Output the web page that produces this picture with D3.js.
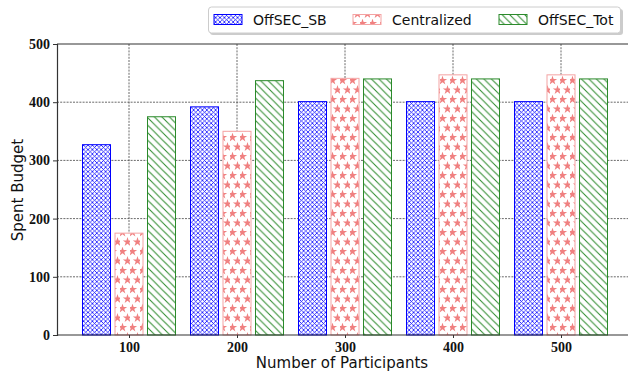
<!DOCTYPE html>
<html>
<head>
<meta charset="utf-8">
<script src="https://cdn.jsdelivr.net/npm/d3@7"></script>
<style>
  body { margin: 0; background: #fff; }
  svg { display: block; }
</style>
</head>
<body>
<div id="chart"></div>
<script>
var w = 628, h = 374;

var participants = [100, 200, 300, 400, 500];
var offsecSB    = [327, 392, 401, 401, 401];
var centralized = [175, 350, 441, 447, 447];
var offsecTot   = [375, 437, 440, 440, 440];
var yTicks = [0, 100, 200, 300, 400, 500];
var seriesNames = ['OffSEC_SB', 'Centralized', 'OffSEC_Tot'];

var series = [
  {name: seriesNames[0], values: offsecSB, color: '#0000ff', fill: 'url(#hatchX)'},
  {name: seriesNames[1], values: centralized, color: '#f4a3a3', fill: 'url(#hatchStar)'},
  {name: seriesNames[2], values: offsecTot, color: '#2b8a2b', fill: 'url(#hatchDiag)'}
];

var pLeft = 57, pTop = 44, pBottom = 335;
var x = d3.scaleLinear().domain([100, 500]).range([129, 561]);
var y = d3.scaleLinear().domain([0, 500]).range([pBottom, pTop]);
var barW = 28, step = 32.5;

var svg = d3.select('#chart').append('svg')
  .attr('width', w)
  .attr('height', h);

var defs = svg.append('defs');

// crosshatch xxx
var px = defs.append('pattern').attr('id', 'hatchX')
  .attr('patternUnits', 'userSpaceOnUse').attr('width', 4.4).attr('height', 4.4);
px.append('rect').attr('width', 4.4).attr('height', 4.4).attr('fill', '#fff');
px.append('path').attr('d', 'M0,0 L4.4,4.4 M4.4,0 L0,4.4 M-1,1 L1,-1 M3.4,5.4 L5.4,3.4 M-1,3.4 L1,5.4 M3.4,-1 L5.4,1')
  .attr('stroke', '#0000ff').attr('stroke-width', 0.75);

// stars
var starPath = d3.symbol().type(d3.symbolStar).size(27)();
var ps = defs.append('pattern').attr('id', 'hatchStar')
  .attr('patternUnits', 'userSpaceOnUse').attr('width', 10).attr('height', 19);
ps.append('rect').attr('width', 10).attr('height', 19).attr('fill', '#fff');
[[2.5, 4.5], [7.5, 14]].forEach(function(p) {
  ps.append('path').attr('d', starPath)
    .attr('transform', 'translate(' + p[0] + ',' + p[1] + ')')
    .attr('fill', '#f08080');
});

// diagonal \\
var pd = defs.append('pattern').attr('id', 'hatchDiag')
  .attr('patternUnits', 'userSpaceOnUse').attr('width', 7.5).attr('height', 7.5);
pd.append('rect').attr('width', 7.5).attr('height', 7.5).attr('fill', '#fff');
pd.append('path').attr('d', 'M0,0 L7.5,7.5 M-1,6.5 L1,8.5 M6.5,-1 L8.5,1')
  .attr('stroke', '#2b8a2b').attr('stroke-width', 1);

// grid
var grid = svg.append('g');
grid.selectAll('.hg').data(yTicks.slice(1, -1)).enter().append('line')
  .attr('x1', pLeft).attr('x2', w)
  .attr('y1', function(d) { return y(d); }).attr('y2', function(d) { return y(d); })
  .attr('stroke', '#444').attr('stroke-width', 0.8).attr('stroke-dasharray', '2,1.2');
grid.selectAll('.vg').data(participants).enter().append('line')
  .attr('x1', function(d) { return x(d); }).attr('x2', function(d) { return x(d); })
  .attr('y1', pTop).attr('y2', pBottom)
  .attr('stroke', '#444').attr('stroke-width', 0.8).attr('stroke-dasharray', '2,1.2');

// bars
series.forEach(function(s, si) {
  svg.append('g').selectAll('rect').data(s.values).enter().append('rect')
    .attr('x', function(d, i) { return x(participants[i]) + (si - 1) * step - barW / 2; })
    .attr('y', function(d) { return y(d); })
    .attr('width', barW)
    .attr('height', function(d) { return pBottom - y(d); })
    .attr('fill', s.fill)
    .attr('stroke', s.color)
    .attr('stroke-width', 1);
});

// axes
var xAxis = svg.append('g').attr('transform', 'translate(0,' + pBottom + ')')
  .call(d3.axisBottom(x).tickValues(participants).tickSize(3).tickPadding(4));
xAxis.select('.domain').remove();
svg.append('line').attr('x1', pLeft).attr('x2', w).attr('y1', pBottom).attr('y2', pBottom)
  .attr('stroke', '#333').attr('stroke-width', 1.2);
svg.append('line').attr('x1', pLeft).attr('x2', w).attr('y1', pTop).attr('y2', pTop)
  .attr('stroke', '#333').attr('stroke-width', 1.2);

var yAxis = svg.append('g').attr('transform', 'translate(' + pLeft + ',0)')
  .call(d3.axisLeft(y).tickValues(yTicks).tickSize(4).tickPadding(3));
yAxis.select('.domain').attr('stroke', '#333').attr('stroke-width', 1.2);

svg.selectAll('.tick text')
  .style('font-family', '"Liberation Serif", serif')
  .style('font-weight', 'bold')
  .style('font-size', '14px')
  .attr('fill', '#111');
svg.selectAll('.tick line').attr('stroke', '#333');

svg.append('text')
  .attr('x', 342).attr('y', 368)
  .attr('text-anchor', 'middle')
  .style('font-family', '"DejaVu Sans", sans-serif')
  .style('font-size', '15px')
  .attr('fill', '#111')
  .text('Number of Participants');

svg.append('text')
  .attr('transform', 'translate(23,190) rotate(-90)')
  .attr('text-anchor', 'middle')
  .style('font-family', '"DejaVu Sans", sans-serif')
  .style('font-size', '15px')
  .attr('fill', '#111')
  .text('Spent Budget');

// legend
var lg = svg.append('g');
lg.append('rect').attr('x', 210).attr('y', 9).attr('width', 413).attr('height', 26)
  .attr('rx', 3).attr('fill', '#999').attr('opacity', 0.5);
lg.append('rect').attr('x', 208.5).attr('y', 7).attr('width', 412).attr('height', 26)
  .attr('rx', 3).attr('fill', '#fff').attr('stroke', '#ccc').attr('stroke-width', 1);
var lx = [214, 353, 499];
series.forEach(function(s, si) {
  lg.append('rect').attr('x', lx[si]).attr('y', 14.5).attr('width', 28).attr('height', 10)
    .attr('fill', s.fill).attr('stroke', s.color).attr('stroke-width', 1);
  lg.append('text').attr('x', lx[si] + 39).attr('y', 25)
    .style('font-family', '"DejaVu Sans", sans-serif')
    .style('font-size', '14px')
    .attr('fill', '#111')
    .text(s.name);
});
</script>
</body>
</html>
